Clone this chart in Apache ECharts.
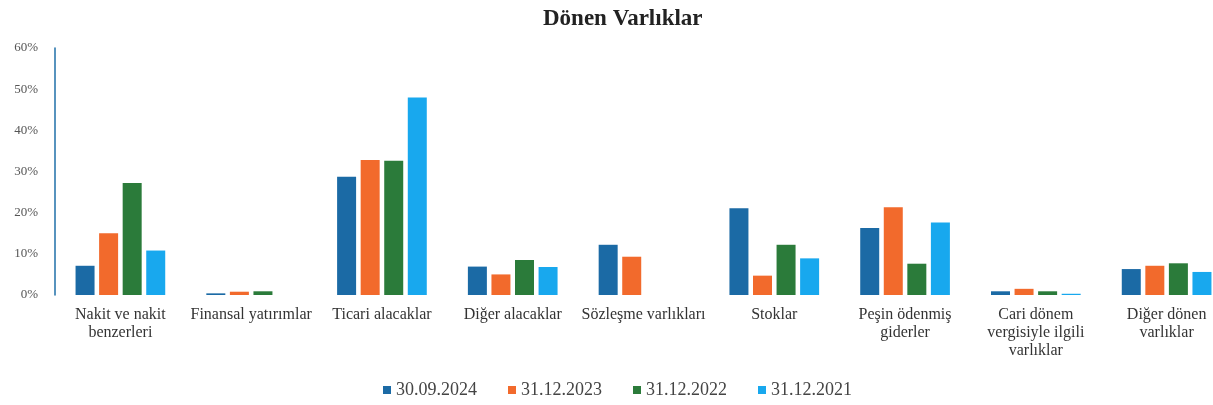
<!DOCTYPE html>
<html>
<head>
<meta charset="utf-8">
<script src="https://cdn.jsdelivr.net/npm/echarts@6/dist/echarts.min.js"></script>
<style>
  html, body { margin: 0; padding: 0; background: #fff; overflow: hidden; }
  /* the chart canvas is a little wider than the page: the last group is cut at the right edge */
  #chart { width: 1232px; height: 405px; }
</style>
</head>
<body>
<div id="chart"></div>
<script>
// Kalem adları (x ekseni)
const categories = [
  'Nakit ve nakit\nbenzerleri',
  'Finansal yatırımlar',
  'Ticari alacaklar',
  'Diğer alacaklar',
  'Sözleşme varlıkları',
  'Stoklar',
  'Peşin ödenmiş\ngiderler',
  'Cari dönem\nvergisiyle ilgili\nvarlıklar',
  'Diğer dönen\nvarlıklar'
];

// Dönemler
const periods = ['30.09.2024', '31.12.2023', '31.12.2022', '31.12.2021'];

// Dönen varlıklar içindeki paylar (%)
const v2024_09 = [7.1, 0.4, 28.7, 6.9, 12.2, 21.1, 16.3, 0.9, 6.3];
const v2023_12 = [15.0, 0.8, 32.8, 5.0, 9.3, 4.7, 21.3, 1.5, 7.1];
const v2022_12 = [27.2, 0.9, 32.6, 8.5, 0, 12.2, 7.6, 0.9, 7.7];
const v2021_12 = [10.8, 0, 48.0, 6.8, 0, 8.9, 17.6, 0.3, 5.6];

// Y ekseni
const yMin = 0, yMax = 60, yStep = 10;

const seriesValues = [v2024_09, v2023_12, v2022_12, v2021_12];
const colors = ['#1b6aa5', '#f26a2c', '#2b7b3a', '#18a8ee'];

const serif = '"Liberation Serif", "Times New Roman", serif';

const chart = echarts.init(document.getElementById('chart'));
chart.setOption({
  animation: false,
  backgroundColor: '#ffffff',
  title: {
    text: 'Dönen Varlıklar',
    left: 538,
    top: 3,
    textStyle: { fontFamily: serif, fontWeight: 'bold', fontSize: 23, color: '#222' }
  },
  legend: {
    data: periods,
    left: 383,
    top: 381,
    padding: 0,
    icon: 'rect',
    itemWidth: 8,
    itemHeight: 8,
    itemGap: 31,
    textStyle: { fontFamily: serif, fontSize: 18, color: '#444' }
  },
  grid: { left: 55, top: 48, bottom: 110, right: 0 },
  xAxis: {
    type: 'category',
    data: categories,
    axisLine: { show: false },
    axisTick: { show: false },
    axisLabel: {
      interval: 0,
      margin: 11,
      fontFamily: serif,
      fontSize: 16,
      lineHeight: 18,
      color: '#333'
    }
  },
  yAxis: {
    type: 'value',
    min: yMin,
    max: yMax,
    interval: yStep,
    axisLine: { show: true, lineStyle: { color: '#1f6fa8', width: 1.5 } },
    axisTick: { show: false },
    splitLine: { show: false },
    axisLabel: {
      formatter: '{value}%',
      margin: 17,
      fontFamily: serif,
      fontSize: 13,
      color: '#555'
    }
  },
  series: periods.map((name, i) => ({
    name: name,
    type: 'bar',
    data: seriesValues[i],
    barWidth: 19,
    barGap: '24%',
    itemStyle: { color: colors[i] }
  }))
});
</script>
</body>
</html>
